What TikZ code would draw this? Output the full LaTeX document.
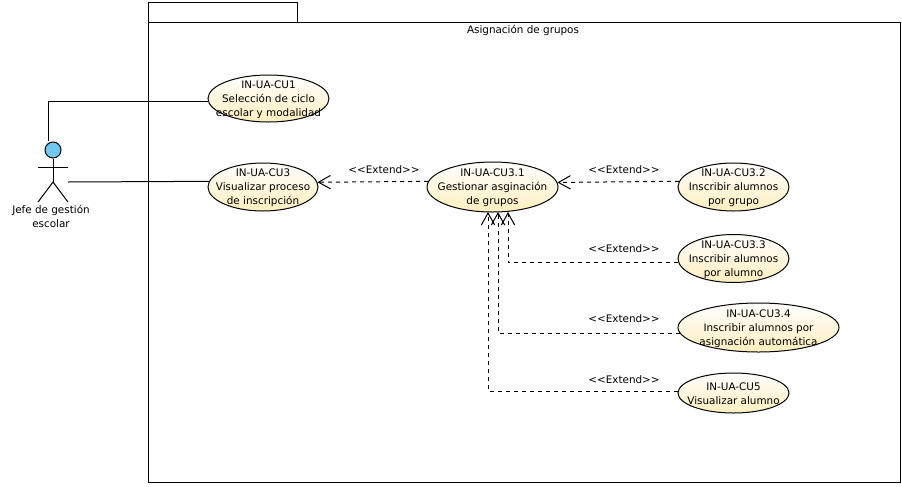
\documentclass[tikz,border=0pt]{standalone}
\usepackage{fontspec}
\setmainfont{DejaVu Sans}
\usetikzlibrary{arrows.meta}
\usetikzlibrary{shapes.geometric}
\definecolor{mycream}{RGB}{255,238,190}
\definecolor{myhead}{RGB}{110,200,240}
\tikzset{
  umlline/.style={line width=0.75pt},
  usecase/.style={draw, umlline, ellipse, inner sep=0, top color=white, bottom color=mycream},
  uctext/.style={align=center, font=\fontsize{7.8}{10.5}\selectfont, inner sep=0, yshift=-0.75pt},
  extendarrow/.style={umlline, dash pattern=on 3pt off 3pt, -{Straight Barb[length=9pt,width=10pt,line width=0.75pt]}},
  extendtext/.style={font=\fontsize{7.8}{9}\selectfont, inner sep=0}
}

\begin{document}
\begin{tikzpicture}[x=0.75pt,y=-0.75pt]
\useasboundingbox (0,0) rectangle (902,486);

% package
\draw[umlline] (148,22) rectangle (900,482);
\draw[umlline] (148,22) -- (148,2) -- (297,2) -- (297,22);
\node[uctext] (title) at (523,29.5) {Asignación de grupos};

% actor
\node[draw, umlline, circle, fill=myhead, minimum size=12pt, inner sep=0] (head) at (53,150) {};
\coordinate (hip) at (53,182);
\coordinate (actortop) at (48,141);
\coordinate (actorhand) at (68,182);
\draw[umlline] (head) -- (hip);
\draw[umlline] (38,167) -- (68,167);
\draw[umlline] (38,202) -- (hip) -- (68,202);
\node[uctext] (actor) at (51,215) {Jefe de gestión\\escolar};

% use cases
\node[usecase, minimum width=90.75pt, minimum height=35.25pt] (cu1) at (268.5,98.5) {};
\node[usecase, minimum width=82.5pt, minimum height=36pt] (cu3) at (263,187) {};
\node[usecase, minimum width=98.25pt, minimum height=37.5pt] (cu31) at (492.5,187) {};
\node[usecase, minimum width=83.25pt, minimum height=36pt] (cu32) at (733.5,187) {};
\node[usecase, minimum width=83.25pt, minimum height=36pt] (cu33) at (733.5,258.5) {};
\node[usecase, minimum width=120.75pt, minimum height=36.75pt] (cu34) at (758.5,327.5) {};
\node[usecase, minimum width=83.25pt, minimum height=30pt] (cu5) at (733.5,393) {};

\node[uctext] (cu1text) at (cu1) {IN-UA-CU1\\Selección de ciclo\\escolar y modalidad};
\node[uctext] (cu3text) at (cu3) {IN-UA-CU3\\Visualizar proceso\\de inscripción};
\node[uctext] (cu31text) at (cu31) {IN-UA-CU3.1\\Gestionar asginación\\de grupos};
\node[uctext] (cu32text) at (cu32) {IN-UA-CU3.2\\Inscribir alumnos\\por grupo};
\node[uctext] (cu33text) at (cu33) {IN-UA-CU3.3\\Inscribir alumnos\\por alumno};
\node[uctext] (cu34text) at (cu34) {IN-UA-CU3.4\\Inscribir alumnos por\\asignación automática};
\node[uctext] (cu5text) at (cu5) {IN-UA-CU5\\Visualizar alumno};

% associations
\draw[umlline] (actortop) |- (cu1.183.3);
\draw[umlline] (actorhand) -- (cu3.174.7);

% extends
\coordinate (tipa) at (488,212);
\coordinate (tipb) at (498,212);
\coordinate (tipc) at (508,212);
\draw[extendarrow] (cu31.175.6) -- (cu3.5.3);
\draw[extendarrow] (cu32.174.7) -- (cu31.4.4);
\draw[extendarrow] (cu33.184) -| (tipc);
\draw[extendarrow] (cu34.184) -| (tipb);
\draw[extendarrow] (cu5.178) -| (tipa);

\node[extendtext] (ext1) at (384,170) {<{}<Extend>{}>};
\node[extendtext] (ext2) at (624,170) {<{}<Extend>{}>};
\node[extendtext] (ext3) at (624,249) {<{}<Extend>{}>};
\node[extendtext] (ext4) at (624,319) {<{}<Extend>{}>};
\node[extendtext] (ext5) at (624,380) {<{}<Extend>{}>};
\end{tikzpicture}
\end{document}
